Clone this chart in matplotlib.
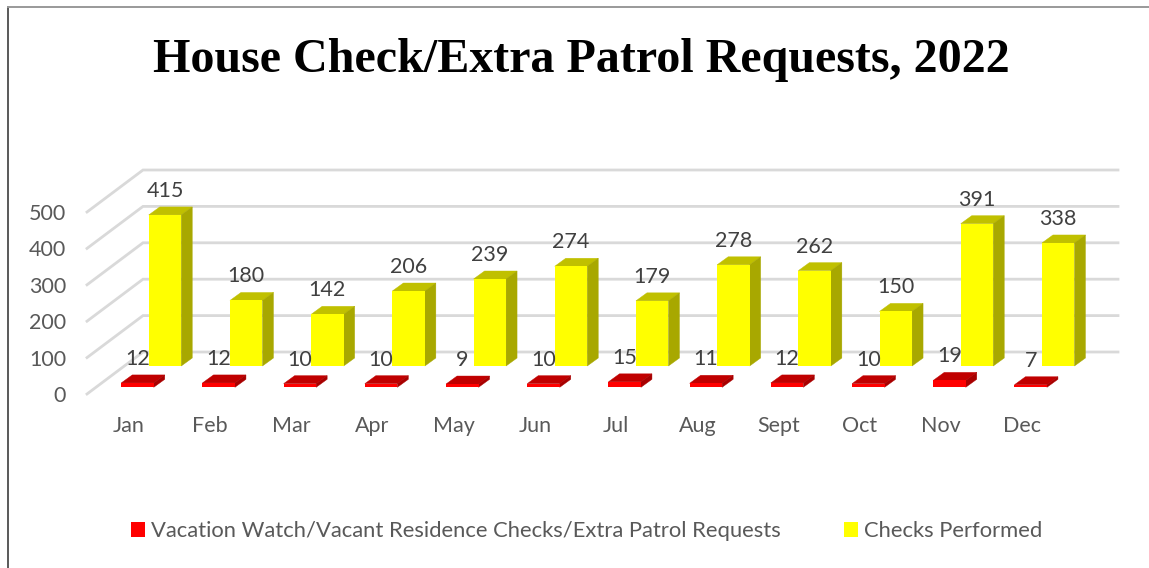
import matplotlib
matplotlib.use("Agg")
import matplotlib.pyplot as plt
from matplotlib.patches import Polygon, Patch
from matplotlib.lines import Line2D
import numpy as np

months = ["Jan", "Feb", "Mar", "Apr", "May", "Jun", "Jul", "Aug", "Sept", "Oct", "Nov", "Dec"]
requests = [12, 12, 10, 10, 9, 10, 15, 11, 12, 10, 19, 7]
checks = [415, 180, 142, 206, 239, 274, 179, 278, 262, 150, 391, 338]
yticks = [0, 100, 200, 300, 400, 500]
title = "House Check/Extra Patrol Requests, 2022"
series_names = ["Vacation Watch/Vacant Residence Checks/Extra Patrol Requests", "Checks Performed"]

W, H = 1149, 568
fig = plt.figure(figsize=(W / 100, H / 100), dpi=100, facecolor="white")
plt.rcParams["font.family"] = "Lato"

# plot area in pixels
L, R, T, B = 87, 1118, 170, 394
PX_X, PX_Y = 81.2, 0.364
ax = fig.add_axes([L / W, 1 - B / H, (R - L) / W, (B - T) / H])
ax.set_xlim((L - 129) / PX_X, (R - 129) / PX_X)
ax.set_ylim(0, (B - T) / PX_Y)
ax.patch.set_visible(False)
for s in ax.spines.values():
    s.set_visible(False)

x0, x1 = ax.get_xlim()
wall_dx, wall_dy = 56 / PX_X, 42 / PX_Y
for v in yticks:
    ax.plot([x0, x0 + wall_dx, x1], [v, v + wall_dy, v + wall_dy], color="#d9d9d9", lw=2.0,
            solid_joinstyle="miter", clip_on=False, zorder=1)


def bars3d(vals, off_px, base_px, front, top, side, z):
    w = 32.5 / PX_X
    dx, dy = 11 / PX_X, 8 / PX_Y
    base = base_px / PX_Y
    xs = np.arange(len(vals)) + off_px / PX_X
    for xc, v in zip(xs, vals):
        xl, xr = xc - w / 2, xc + w / 2
        yb, yt = base, base + v
        ax.add_patch(Polygon([(xl, yt), (xr, yt), (xr + dx, yt + dy), (xl + dx, yt + dy)],
                             closed=True, fc=top, ec=top, lw=0.3, zorder=z))
        ax.add_patch(Polygon([(xr, yb), (xr, yt), (xr + dx, yt + dy), (xr + dx, yb + dy)],
                             closed=True, fc=side, ec=side, lw=0.3, zorder=z))
        ax.annotate(str(v), xy=(xc, yt), xytext=(0, 24), textcoords="offset pixels",
                    ha="center", va="center", fontsize=15.5, color="#404040", zorder=6)
    ax.bar(xs, vals, width=w, bottom=base, color=front, zorder=z + 0.5, lw=0)


bars3d(checks, 36, 28, "#ffff00", "#c0c000", "#a8a800", 3)
bars3d(requests, 8.5, 6.7, "#ff0000", "#c00000", "#a80000", 4)

ax.set_xticks(np.arange(len(months)), months)
ax.set_yticks(yticks, [str(v) for v in yticks])
ax.tick_params(axis="x", length=0, pad=15.5, labelsize=15.5, labelcolor="#595959")
ax.tick_params(axis="y", length=0, pad=15, labelsize=15.5, labelcolor="#595959")

fig.text(581.5 / W, 1 - 60 / H, title, ha="center", va="center", family="Liberation Serif",
         fontweight="bold", fontsize=34.6, color="black")

handles = [Patch(fc="#ff0000", ec="none"), Patch(fc="#ffff00", ec="none")]
leg = fig.legend(handles, series_names, loc="center", bbox_to_anchor=(586.5 / W, 1 - 531 / H), ncols=2,
                 frameon=False, fontsize=15.8, labelcolor="#595959", handlelength=0.64, handleheight=0.64,
                 handletextpad=0.27, columnspacing=2.9, borderpad=0, borderaxespad=0)

# outer frame (top and left edges)
fig.add_artist(Line2D([8 / W, 8 / W], [0, 1 - 7 / H], color="#595959", lw=1.4, transform=fig.transFigure))
fig.add_artist(Line2D([8 / W, 1], [1 - 6.5 / H, 1 - 6.5 / H], color="#999999", lw=1.4, transform=fig.transFigure))

fig.savefig("out.png", dpi=100)
